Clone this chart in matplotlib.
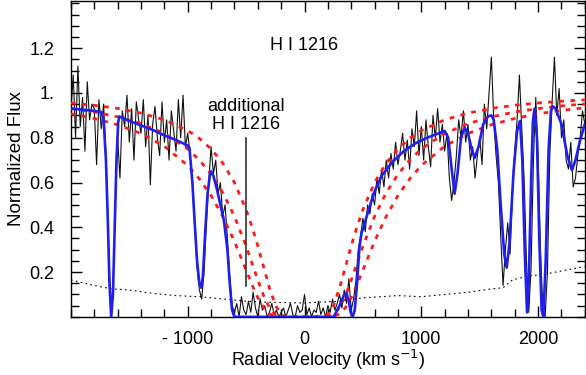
import numpy as np
import matplotlib
matplotlib.use("Agg")
import matplotlib.pyplot as plt
from matplotlib.ticker import MultipleLocator

plt.rcParams.update({
    "font.family": ["Liberation Sans", "DejaVu Sans"],
    "font.size": 13,
})

# ---- observed spectrum (sampled every 20 km/s, -2000 .. 2400) ----
obs_v = np.arange(-2000, 2401, 20)
obs_flux = [
    0.92, 1.08, 0.80, 1.12, 0.85, 0.98, 0.74, 1.05, 0.88, 0.95,
    0.93, 0.68, 0.97, 0.84, 0.95, 0.72, 0.38, 0.04, 0.13, 0.48,
    0.80, 0.62, 0.92, 0.85, 0.99, 0.78, 0.93, 0.70, 0.96, 0.88,
    0.82, 0.97, 0.76, 0.90, 0.59, 0.86, 0.94, 0.80, 0.72, 0.96,
    0.78, 0.88, 0.70, 0.92, 0.83, 0.74, 0.97, 0.80, 0.99, 0.76,
    0.82, 0.73, 0.60, 0.40, 0.22, 0.12, 0.08, 0.20, 0.42, 0.60,
    0.76, 0.64, 0.70, 0.55, 0.60, 0.45, 0.50, 0.35, 0.18, 0.05,
    0.02, 0.06, 0.00, 0.09, 0.03, 0.01, 0.07, 0.02, 0.11, 0.04,
    0.00, 0.08, 0.03, 0.05, 0.00, 0.02, 0.06, 0.01, 0.03, 0.00,
    0.02, 0.04, 0.00, 0.03, 0.06, 0.01, 0.00, 0.05, 0.02, 0.03,
    0.10, 0.01, 0.04, 0.00, 0.03, 0.02, 0.07, 0.01, 0.04, 0.00,
    0.05, 0.02, 0.08, 0.03, 0.06, 0.10, 0.04, 0.12, 0.06, 0.17,
    0.03, 0.08, 0.16, 0.30, 0.36, 0.44, 0.38, 0.50, 0.46, 0.55,
    0.50, 0.62, 0.55, 0.66, 0.58, 0.70, 0.62, 0.73, 0.66, 0.78,
    0.68, 0.74, 0.82, 0.70, 0.79, 0.66, 0.84, 0.76, 0.92, 0.72,
    0.85, 0.70, 0.88, 0.76, 0.67, 0.90, 0.80, 0.93, 0.78, 0.86,
    0.74, 0.82, 0.62, 0.52, 0.60, 0.72, 0.88, 0.80, 0.92, 0.78,
    0.86, 0.70, 0.76, 0.62, 0.72, 0.80, 0.68, 0.95, 0.84, 1.00,
    1.16, 0.88, 0.72, 0.60, 0.36, 0.14, 0.30, 0.42, 0.28, 0.55,
    0.74, 0.88, 1.08, 0.84, 0.62, 0.25, 0.02, 0.22, 0.70, 0.98,
    0.72, 0.30, 0.04, 0.00, 0.20, 0.72, 0.96, 1.16, 0.90, 1.02,
    0.80, 0.88, 0.70, 0.66, 0.78, 0.58, 0.62, 0.72, 0.80, 0.92,
    0.86,
]

# ---- error spectrum ----
err_v = [-2000, -1800, -1650, -1500, -1300, -1100, -900, -700, -500, -300,
         0, 300, 500, 800, 1000, 1200, 1400, 1600, 1700, 1780, 1900, 2100,
         2300, 2400]
err_flux = [0.165, 0.14, 0.125, 0.12, 0.105, 0.095, 0.09, 0.08, 0.07, 0.065,
            0.062, 0.07, 0.085, 0.095, 0.09, 0.10, 0.11, 0.125, 0.13, 0.165,
            0.18, 0.195, 0.215, 0.225]

# ---- best-fit model (blue) ----
model_v = [-2000, -1900, -1800, -1740, -1720, -1700, -1685, -1670, -1655,
           -1640, -1625, -1610, -1595, -1585, -1500, -1400, -1300, -1200,
           -1100, -1000, -985, -960, -940, -920, -900, -884, -870, -850,
           -830, -810, -800, -780, -750, -720, -690, -660, -640, -620, -600,
           250, 300, 340, 360, 380, 395, 412, 430, 450, 470, 490, 505, 550,
           600, 660, 750, 850, 950, 1050, 1150, 1200, 1230, 1260, 1285, 1310,
           1340, 1371, 1400, 1430, 1457, 1490, 1530, 1570, 1600, 1620, 1650,
           1680, 1710, 1731, 1755, 1790, 1820, 1845, 1865, 1885, 1905, 1920,
           1940, 1955, 1970, 1990, 2010, 2030, 2045, 2065, 2090, 2110, 2125,
           2150, 2200, 2250, 2290, 2320, 2360, 2400]
model_flux = [0.930, 0.925, 0.920, 0.915, 0.88, 0.70, 0.45, 0.15, 0.00,
              0.10, 0.40, 0.70, 0.87, 0.895, 0.875, 0.855, 0.835, 0.81,
              0.79, 0.765, 0.755, 0.60, 0.42, 0.25, 0.15, 0.13, 0.18, 0.38,
              0.55, 0.635, 0.65, 0.63, 0.57, 0.50, 0.43, 0.30, 0.15, 0.03, 0.0,
              0.0, 0.05, 0.10, 0.105, 0.07, 0.02, 0.0, 0.03, 0.15, 0.31, 0.38,
              0.40, 0.48, 0.56, 0.63, 0.69, 0.74, 0.775, 0.80, 0.82, 0.83,
              0.80, 0.66, 0.55, 0.64, 0.80, 0.845, 0.82, 0.75, 0.71, 0.76,
              0.86, 0.895, 0.90, 0.88, 0.75, 0.50, 0.28, 0.22, 0.33, 0.65,
              0.83, 0.875, 0.70, 0.30, 0.02, 0.15, 0.60, 0.87, 0.93, 0.80,
              0.35, 0.03, 0.0, 0.25, 0.75, 0.92, 0.94, 0.93, 0.86, 0.72,
              0.655, 0.70, 0.79, 0.86]

# ---- damped Ly-alpha profiles for three column densities (red) ----
dla_v = [-2000, -1800, -1600, -1400, -1200, -1000, -900, -800, -700, -600,
         -500, -450, -400, -350, -300, -250, -200, -150, 0, 150, 200, 250,
         300, 350, 400, 450, 500, 600, 700, 800, 900, 1000, 1200, 1400,
         1600, 1800, 2000, 2200, 2400]
dla_low = [0.955, 0.945, 0.931, 0.910, 0.880, 0.832, 0.797, 0.750, 0.687,
           0.600, 0.479, 0.403, 0.317, 0.223, 0.129, 0.053, 0.010, 0.0, 0.0,
           0.0, 0.010, 0.053, 0.129, 0.223, 0.317, 0.403, 0.479, 0.600,
           0.687, 0.750, 0.797, 0.832, 0.880, 0.910, 0.931, 0.945, 0.955,
           0.963, 0.969]
dla_mid = [0.930, 0.915, 0.893, 0.863, 0.819, 0.750, 0.700, 0.637, 0.555,
           0.449, 0.316, 0.241, 0.165, 0.095, 0.041, 0.010, 0.0, 0.0, 0.0,
           0.0, 0.0, 0.010, 0.041, 0.095, 0.165, 0.241, 0.316, 0.449, 0.555,
           0.637, 0.700, 0.750, 0.819, 0.863, 0.893, 0.915, 0.930, 0.942,
           0.951]
dla_high = [0.907, 0.886, 0.858, 0.819, 0.762, 0.676, 0.616, 0.542, 0.449,
            0.337, 0.209, 0.144, 0.086, 0.041, 0.013, 0.002, 0.0, 0.0, 0.0,
            0.0, 0.0, 0.002, 0.013, 0.041, 0.086, 0.144, 0.209, 0.337, 0.449,
            0.542, 0.616, 0.676, 0.762, 0.819, 0.858, 0.886, 0.907, 0.922,
            0.934]

x_ticks = [-1000, 0, 1000, 2000]
x_labels = ["- 1000", "0", "1000", "2000"]
y_ticks = [0.2, 0.4, 0.6, 0.8, 1.0, 1.2]
y_labels = ["0.2", "0.4", "0.6", "0.8", "1.", "1.2"]

fig = plt.figure(figsize=(5.86, 3.75), dpi=100)
ax = fig.add_axes([0.121, 0.155, 0.877, 0.842])

ax.plot(obs_v, obs_flux, color="#111111", lw=0.8, zorder=2)
ax.plot(err_v, err_flux, color="k", lw=0.8, dashes=(1.5, 3.0), zorder=2)
for prof in (dla_low, dla_mid, dla_high):
    ax.plot(dla_v, prof, color="#ff1a1a", lw=2.0, dashes=(1.7, 2.3), zorder=3)
ax.plot(model_v, model_flux, color="#1f1fef", lw=1.9, zorder=4)

# marker for the additional absorber
ax.plot([-500, -500], [0.14, 0.80], color="#333333", lw=1.2, zorder=3)
ax.text(-500, 0.90, "additional\nH I 1216", ha="center", va="center",
        linespacing=1.1)
ax.text(0, 1.21, "H I 1216", ha="center", va="center")

ax.set_xlim(-2000, 2400)
ax.set_ylim(0, 1.41)
ax.set_xticks(x_ticks)
ax.set_xticklabels(x_labels)
ax.set_yticks(y_ticks)
ax.set_yticklabels(y_labels)
ax.xaxis.set_minor_locator(MultipleLocator(200))
ax.yaxis.set_minor_locator(MultipleLocator(0.05))
ax.tick_params(which="both", direction="in", top=True, right=True,
               width=1.0, labelsize=13)
ax.tick_params(which="major", length=8)
ax.tick_params(which="minor", length=5.5)
ax.tick_params(axis="x", pad=10)
ax.tick_params(axis="y", pad=12)
for s in ax.spines.values():
    s.set_linewidth(1.0)

ax.set_xlabel("Radial Velocity (km s$^{-1}$)", fontsize=13, labelpad=0)
ax.set_ylabel("Normalized Flux", fontsize=13.5, labelpad=3)

fig.savefig("out.png", dpi=100)
